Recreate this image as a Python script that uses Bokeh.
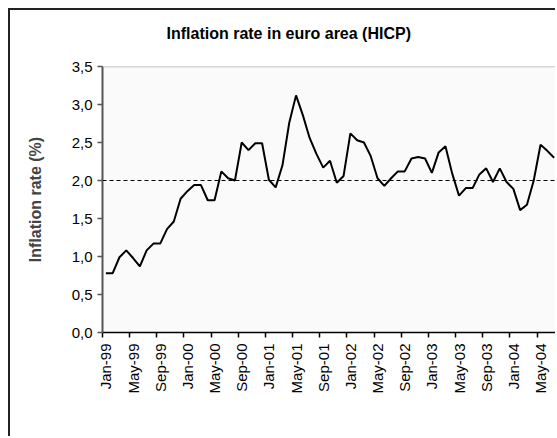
import math
from bokeh.plotting import figure
from bokeh.models import (LinearAxis, FixedTicker, CustomJSTickFormatter, Span, Range1d, Title)
from bokeh.embed import file_html
from bokeh.resources import INLINE

# ---- data ----
month_names = ["Jan", "Feb", "Mar", "Apr", "May", "Jun", "Jul", "Aug", "Sep", "Oct", "Nov", "Dec"]
years = ["99", "00", "01", "02", "03", "04"]
months = [f"{m}-{y}" for y in years for m in month_names][:67]   # Jan-99 .. Jul-04

inflation = [0.78, 0.78, 0.99, 1.08, 0.98, 0.87, 1.08, 1.17, 1.17, 1.36, 1.46, 1.76,
             1.86, 1.94, 1.94, 1.74, 1.74, 2.12, 2.03, 2.00, 2.50, 2.40, 2.49, 2.49,
             2.01, 1.91, 2.20, 2.76, 3.12, 2.86, 2.56, 2.35, 2.17, 2.26, 1.97, 2.06,
             2.62, 2.53, 2.50, 2.32, 2.03, 1.93, 2.03, 2.12, 2.12, 2.29, 2.31, 2.29,
             2.10, 2.37, 2.45, 2.09, 1.80, 1.90, 1.90, 2.08, 2.16, 1.98, 2.16, 1.98,
             1.89, 1.61, 1.68, 2.00, 2.47, 2.39, 2.30]

tick_labels = ["Jan-99", "May-99", "Sep-99", "Jan-00", "May-00", "Sep-00", "Jan-01", "May-01",
               "Sep-01", "Jan-02", "May-02", "Sep-02", "Jan-03", "May-03", "Sep-03", "Jan-04", "May-04"]
y_ticks = [0.0, 0.5, 1.0, 1.5, 2.0, 2.5, 3.0, 3.5]
target = 2.0
title_text = "Inflation rate in euro area (HICP)"
y_title = "Inflation rate (%)"

# ---- layout ----
FONT = "Liberation Sans"
W, H = 547, 428            # canvas; placed at (10,10) after 8px margin + 2px border
ML, MT, MB, MR = 92, 56, 106, 0
TITLE_GAP = 25             # space between title and plot area

x_idx = list(range(len(months)))

p = figure(width=W, height=H, output_backend="svg", toolbar_location=None, title=None,
           x_range=Range1d(-0.5, len(months) - 0.5), y_range=Range1d(0, 3.5),
           min_border_left=ML, min_border_right=MR, min_border_top=MT, min_border_bottom=MB,
           x_axis_type=None)
p.styles = {"margin-left": "8px", "margin-top": "8px",
            "border-left": "2px solid #222222", "border-top": "2px solid #222222"}
p.background_fill_color = "#FAFAFA"
p.border_fill_color = "white"
p.outline_line_color = None
p.grid.visible = False

# invisible spacer above the plot area (nearest the frame), then the title
spacer = LinearAxis(ticker=FixedTicker(ticks=[x_idx[len(x_idx) // 2]]),
                    formatter=CustomJSTickFormatter(code="return '';"))
spacer.axis_line_color = None
spacer.major_tick_line_color = None
spacer.minor_tick_line_color = None
spacer.major_tick_out = TITLE_GAP
spacer.major_tick_in = 0
spacer.minor_tick_out = 0
spacer.major_label_standoff = 0
spacer.major_label_text_font_size = "0px"
p.add_layout(spacer, "above")

p.add_layout(Title(text=title_text, align="left", offset=64, standoff=0,
                   text_font=FONT, text_font_style="bold", text_font_size="16px",
                   text_color="black"), "above")

# y axis
ya = p.yaxis[0]
ya.ticker = FixedTicker(ticks=y_ticks)
ya.formatter = CustomJSTickFormatter(code="return tick.toFixed(1).replace('.', ',');")
ya.axis_line_color = "#555555"
ya.axis_line_width = 2
ya.major_tick_line_color = "#555555"
ya.major_tick_line_width = 1.5
ya.major_tick_out = 5
ya.major_tick_in = 0
ya.minor_tick_line_color = None
ya.major_label_standoff = 5
ya.major_label_text_font = FONT
ya.major_label_text_font_size = "15px"
ya.major_label_text_color = "black"
ya.axis_label = y_title
ya.axis_label_text_font = FONT
ya.axis_label_text_font_style = "bold"
ya.axis_label_text_font_size = "16px"
ya.axis_label_standoff = 25

# x axis: tick marks between categories
xa_ticks = LinearAxis(ticker=FixedTicker(ticks=[i - 0.5 for i in range(0, len(months), 4)]),
                      formatter=CustomJSTickFormatter(code="return '';"))
xa_ticks.axis_line_color = "black"
xa_ticks.axis_line_width = 1.5
xa_ticks.major_tick_line_color = "black"
xa_ticks.major_tick_line_width = 1.5
xa_ticks.major_tick_out = 5
xa_ticks.major_tick_in = 0
xa_ticks.minor_tick_line_color = None
xa_ticks.major_label_standoff = 0
xa_ticks.major_label_text_font_size = "0px"
p.add_layout(xa_ticks, "below")

# x axis: labels centred on categories
xa_lab = LinearAxis(ticker=FixedTicker(ticks=list(range(0, len(months), 4))),
                    formatter=CustomJSTickFormatter(args=dict(labels=tick_labels),
                                                    code="return labels[Math.round(tick / 4)];"))
xa_lab.axis_line_color = None
xa_lab.major_tick_line_color = None
xa_lab.major_tick_out = 0
xa_lab.major_tick_in = 0
xa_lab.minor_tick_line_color = None
xa_lab.major_label_orientation = math.pi / 2
xa_lab.major_label_standoff = 6
xa_lab.major_label_text_font = FONT
xa_lab.major_label_text_font_size = "15px"
xa_lab.major_label_text_color = "black"
p.add_layout(xa_lab, "below")

# top border of plot area and target line
p.add_layout(Span(location=3.5, dimension="width", line_color="#B4B4B4", line_width=1.5))
p.add_layout(Span(location=target, dimension="width", line_color="black",
                  line_width=1, line_dash="4 3"))

p.line(x_idx, inflation, line_color="black", line_width=2)

open("out.html", "w").write(file_html(p, INLINE))
